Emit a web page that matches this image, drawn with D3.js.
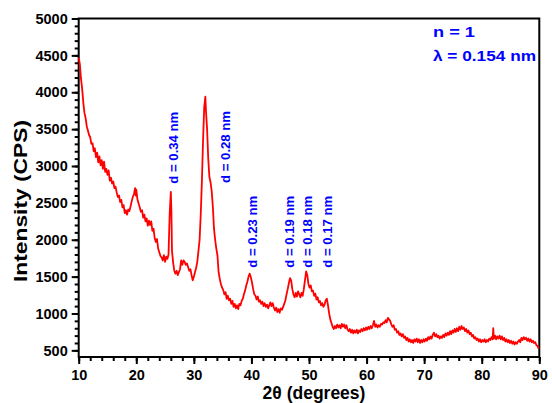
<!DOCTYPE html>
<html>
<head>
<meta charset="utf-8">
<script src="https://cdn.jsdelivr.net/npm/d3@7"></script>
<style>
  body { margin: 0; background: #fff; }
  svg { display: block; font-family: "Liberation Sans", Arial, sans-serif; font-weight: bold; }
</style>
</head>
<body>
<div id="chart"></div>
<script>
// XRD pattern: 2theta (deg) and intensity (CPS)
const twoTheta = [
  10.0,10.2,10.4,10.6,10.8,11.0,11.2,11.4,11.6,11.8,12.0,12.2,12.4,12.6,12.8,13.0,13.2,13.4,13.6,13.8,
  14.0,14.2,14.4,14.6,14.8,15.0,15.2,15.4,15.6,15.8,16.0,16.2,16.4,16.6,16.8,17.0,17.2,17.4,17.6,17.8,
  18.0,18.2,18.4,18.6,18.8,19.0,19.2,19.4,19.6,19.8,19.9,20.0,20.2,20.4,20.6,20.8,21.0,21.2,21.4,21.6,
  21.8,22.0,22.2,22.4,22.6,22.8,23.0,23.2,23.4,23.6,23.8,24.0,24.2,24.4,24.6,24.8,25.0,25.2,25.4,25.6,
  25.8,26.0,26.1,26.2,26.4,26.6,26.8,27.0,27.2,27.4,27.6,27.8,28.0,28.2,28.4,28.6,28.8,29.0,29.2,29.4,
  29.6,29.8,30.0,30.2,30.4,30.6,30.8,31.0,31.2,31.4,31.6,31.8,32.0,32.1,32.3,32.5,32.7,32.9,33.1,33.3,
  33.5,33.7,33.9,34.1,34.3,34.5,34.7,34.9,35.1,35.3,35.5,35.7,35.9,36.1,36.3,36.5,36.7,36.9,37.1,37.3,
  37.5,37.7,37.9,38.1,38.3,38.5,38.7,38.9,39.1,39.3,39.5,39.7,39.9,40.1,40.3,40.5,40.7,40.9,41.1,41.3,
  41.5,41.7,41.9,42.1,42.3,42.5,42.7,42.9,43.1,43.3,43.5,43.7,43.9,44.1,44.3,44.5,44.7,44.9,45.1,45.3,
  45.5,45.7,45.9,46.1,46.3,46.5,46.7,46.9,47.1,47.3,47.5,47.7,47.9,48.1,48.3,48.5,48.7,48.9,49.1,49.3,
  49.5,49.7,49.9,50.1,50.3,50.5,50.7,50.9,51.1,51.3,51.5,51.7,51.9,52.1,52.3,52.5,52.7,52.9,53.1,53.3,
  53.5,53.7,53.9,54.1,54.3,54.5,54.7,54.9,55.1,55.3,55.5,55.7,55.9,56.1,56.3,56.5,56.7,56.9,57.1,57.3,
  57.5,57.7,57.9,58.1,58.3,58.5,58.7,58.9,59.1,59.3,59.5,59.7,59.9,60.1,60.3,60.5,60.7,60.9,61.1,61.3,
  61.5,61.7,61.9,62.1,62.3,62.5,62.7,62.9,63.1,63.3,63.5,63.7,63.9,64.1,64.3,64.5,64.7,64.9,65.1,65.3,
  65.5,65.7,65.9,66.1,66.3,66.5,66.7,66.9,67.1,67.3,67.5,67.7,67.9,68.1,68.3,68.5,68.7,68.9,69.1,69.3,
  69.5,69.7,69.9,70.1,70.3,70.5,70.7,70.9,71.1,71.3,71.5,71.7,71.9,72.1,72.3,72.5,72.7,72.9,73.1,73.3,
  73.5,73.7,73.9,74.1,74.3,74.5,74.7,74.9,75.1,75.3,75.5,75.7,75.9,76.1,76.3,76.5,76.7,76.9,77.1,77.3,
  77.5,77.7,77.9,78.1,78.3,78.5,78.7,78.9,79.1,79.3,79.5,79.7,79.9,80.1,80.3,80.5,80.7,80.9,81.1,81.3,
  81.5,81.7,81.9,82.0,82.1,82.3,82.5,82.7,82.9,83.1,83.3,83.5,83.7,83.9,84.1,84.3,84.5,84.7,84.9,85.1,
  85.3,85.5,85.7,85.9,86.1,86.3,86.5,86.7,86.9,87.1,87.3,87.5,87.7,87.9,88.1,88.3,88.5,88.7,88.9,89.1,
  89.3,89.5,89.7,89.9
];
const intensity = [
  4470,4380,4180,4050,3860,3720,3650,3540,3480,3420,3390,3300,3310,3200,3240,3120,3180,3050,3130,3010,
  3080,2960,3060,2920,2960,2880,2940,2800,2840,2760,2790,2700,2720,2640,2580,2600,2510,2540,2440,2470,
  2360,2400,2340,2410,2390,2450,2520,2580,2620,2700,2600,2680,2550,2490,2440,2380,2400,2300,2340,2250,
  2290,2190,2260,2200,2250,2120,2150,2020,1970,2010,1880,1830,1780,1760,1720,1790,1700,1770,1740,1800,
  2350,2650,2400,1850,1690,1580,1540,1580,1520,1560,1600,1720,1660,1720,1700,1660,1680,1630,1580,1600,
  1520,1450,1500,1560,1620,1700,1850,2000,2350,2800,3350,3800,3940,3750,3500,3100,2850,2780,2660,2450,
  2150,2000,1880,1790,1560,1470,1400,1350,1320,1260,1290,1200,1240,1180,1200,1130,1170,1090,1130,1070,
  1110,1060,1130,1110,1170,1200,1260,1310,1380,1430,1500,1540,1490,1420,1330,1260,1240,1190,1230,1160,
  1180,1130,1160,1100,1140,1090,1120,1070,1110,1150,1100,1140,1080,1040,1080,1020,1060,1010,1070,1050,
  1090,1130,1180,1260,1330,1410,1480,1450,1330,1260,1220,1280,1230,1300,1260,1220,1280,1240,1330,1450,
  1570,1520,1400,1350,1380,1300,1310,1240,1270,1190,1220,1150,1170,1110,1140,1090,1120,1180,1200,1110,
  1000,920,870,820,790,830,800,850,810,840,800,860,820,850,800,840,780,760,790,740,
  780,730,770,740,780,730,770,750,790,760,800,770,810,780,820,790,830,800,840,900,
  820,850,810,840,820,860,850,880,870,910,880,940,920,900,850,820,840,780,790,740,
  760,710,730,690,720,670,690,640,670,620,650,610,640,600,650,620,660,610,650,600,
  640,610,650,620,660,630,680,650,690,660,710,740,690,720,680,700,660,690,670,710,
  680,730,700,740,710,760,720,770,740,790,750,800,760,820,780,830,790,810,760,790,
  740,770,720,740,690,710,660,680,640,660,620,650,610,640,620,650,610,640,620,660,
  640,680,650,800,660,700,650,690,660,700,650,690,640,670,620,650,610,640,600,630,
  590,620,580,610,590,620,640,610,670,640,680,650,670,630,660,620,650,610,630,600,
  610,570,560,520
];

// x and y ticks
const xMajor = [10, 20, 30, 40, 50, 60, 70, 80, 90];
const yMajor = [500, 1000, 1500, 2000, 2500, 3000, 3500, 4000, 4500, 5000];

// peak annotations: text, 2theta position, intensity at the foot of the text
const peakLabels = ["d = 0.34 nm", "d = 0.28 nm", "d = 0.23 nm", "d = 0.19 nm", "d = 0.18 nm", "d = 0.17 nm"];
const peakAngles = [26.4, 35.4, 40.1, 46.6, 49.7, 53.2];
const peakFoot = [2760, 2770, 1620, 1620, 1620, 1620];

const infoLines = ["n = 1", "\u03bb = 0.154 nm"];

const width = 552, height = 403;
const margin = { top: 18.5, right: 12.7, bottom: 46, left: 78.7 };

const svg = d3.select('#chart').append('svg')
  .attr('width', width)
  .attr('height', height);

const x = d3.scaleLinear().domain([10, 90]).range([margin.left, width - margin.right]);
const y = d3.scaleLinear().domain([410, 5000]).range([height - margin.bottom, margin.top]);

// minor ticks
svg.append('g')
  .attr('transform', `translate(0,${height - margin.bottom})`)
  .call(d3.axisBottom(x).tickValues(d3.range(10, 91, 2)).tickSize(4).tickFormat(''))
  .call(g => g.select('.domain').remove())
  .selectAll('line').attr('stroke-width', 2);

svg.append('g')
  .attr('transform', `translate(${margin.left},0)`)
  .call(d3.axisLeft(y).tickValues(d3.range(500, 5001, 100)).tickSize(4).tickFormat(''))
  .call(g => g.select('.domain').remove())
  .selectAll('line').attr('stroke-width', 2);

// major ticks + labels
const xAxis = svg.append('g')
  .attr('transform', `translate(0,${height - margin.bottom})`)
  .call(d3.axisBottom(x).tickValues(xMajor).tickFormat(d3.format('d')).tickSize(7).tickSizeOuter(0).tickPadding(6));

const yAxis = svg.append('g')
  .attr('transform', `translate(${margin.left},0)`)
  .call(d3.axisLeft(y).tickValues(yMajor).tickFormat(d3.format('d')).tickSize(7).tickSizeOuter(0).tickPadding(4));

[xAxis, yAxis].forEach(g => {
  g.select('.domain').remove();
  g.selectAll('line').attr('stroke-width', 2);
  g.selectAll('text')
    .style('font-size', '14.5px')
    .style('font-weight', 'bold')
    .style('font-family', '"Liberation Sans", Arial, sans-serif')
    .attr('fill', '#000');
});

// frame
svg.append('rect')
  .attr('x', margin.left)
  .attr('y', margin.top)
  .attr('width', width - margin.right - margin.left)
  .attr('height', height - margin.bottom - margin.top)
  .attr('fill', 'none')
  .attr('stroke', '#000')
  .attr('stroke-width', 2);

// pattern
const line = d3.line()
  .x((d, i) => x(twoTheta[i]))
  .y(d => y(d));

svg.append('path')
  .datum(intensity)
  .attr('d', line)
  .attr('fill', 'none')
  .attr('stroke', '#ff0000')
  .attr('stroke-width', 1.8)
  .attr('stroke-linejoin', 'round');

// peak annotations
svg.selectAll('.peak')
  .data(peakLabels)
  .enter().append('text')
  .attr('class', 'peak')
  .attr('transform', (d, i) => `translate(${x(peakAngles[i])},${y(peakFoot[i])}) rotate(-90)`)
  .attr('dy', '0.36em')
  .attr('fill', '#0000ff')
  .attr('textLength', 72)
  .attr('lengthAdjust', 'spacingAndGlyphs')
  .style('font-size', '13px')
  .text(d => d);

// n and lambda
svg.selectAll('.info')
  .data(infoLines)
  .enter().append('text')
  .attr('class', 'info')
  .attr('x', 433)
  .attr('y', (d, i) => 37 + i * 24)
  .attr('fill', '#0000ff')
  .attr('textLength', (d, i) => i ? 103 : 42)
  .attr('lengthAdjust', 'spacingAndGlyphs')
  .style('font-size', '15.5px')
  .text(d => d);

// axis titles
svg.append('text')
  .attr('x', (margin.left + width - margin.right) / 2 + 5)
  .attr('y', 399)
  .attr('text-anchor', 'middle')
  .style('font-size', '17.5px')
  .text('2\u03b8 (degrees)');

svg.append('text')
  .attr('transform', `translate(27,201) rotate(-90)`)
  .attr('text-anchor', 'middle')
  .attr('textLength', 162)
  .attr('lengthAdjust', 'spacingAndGlyphs')
  .style('font-size', '19px')
  .text('Intensity (CPS)');
</script>
</body>
</html>
